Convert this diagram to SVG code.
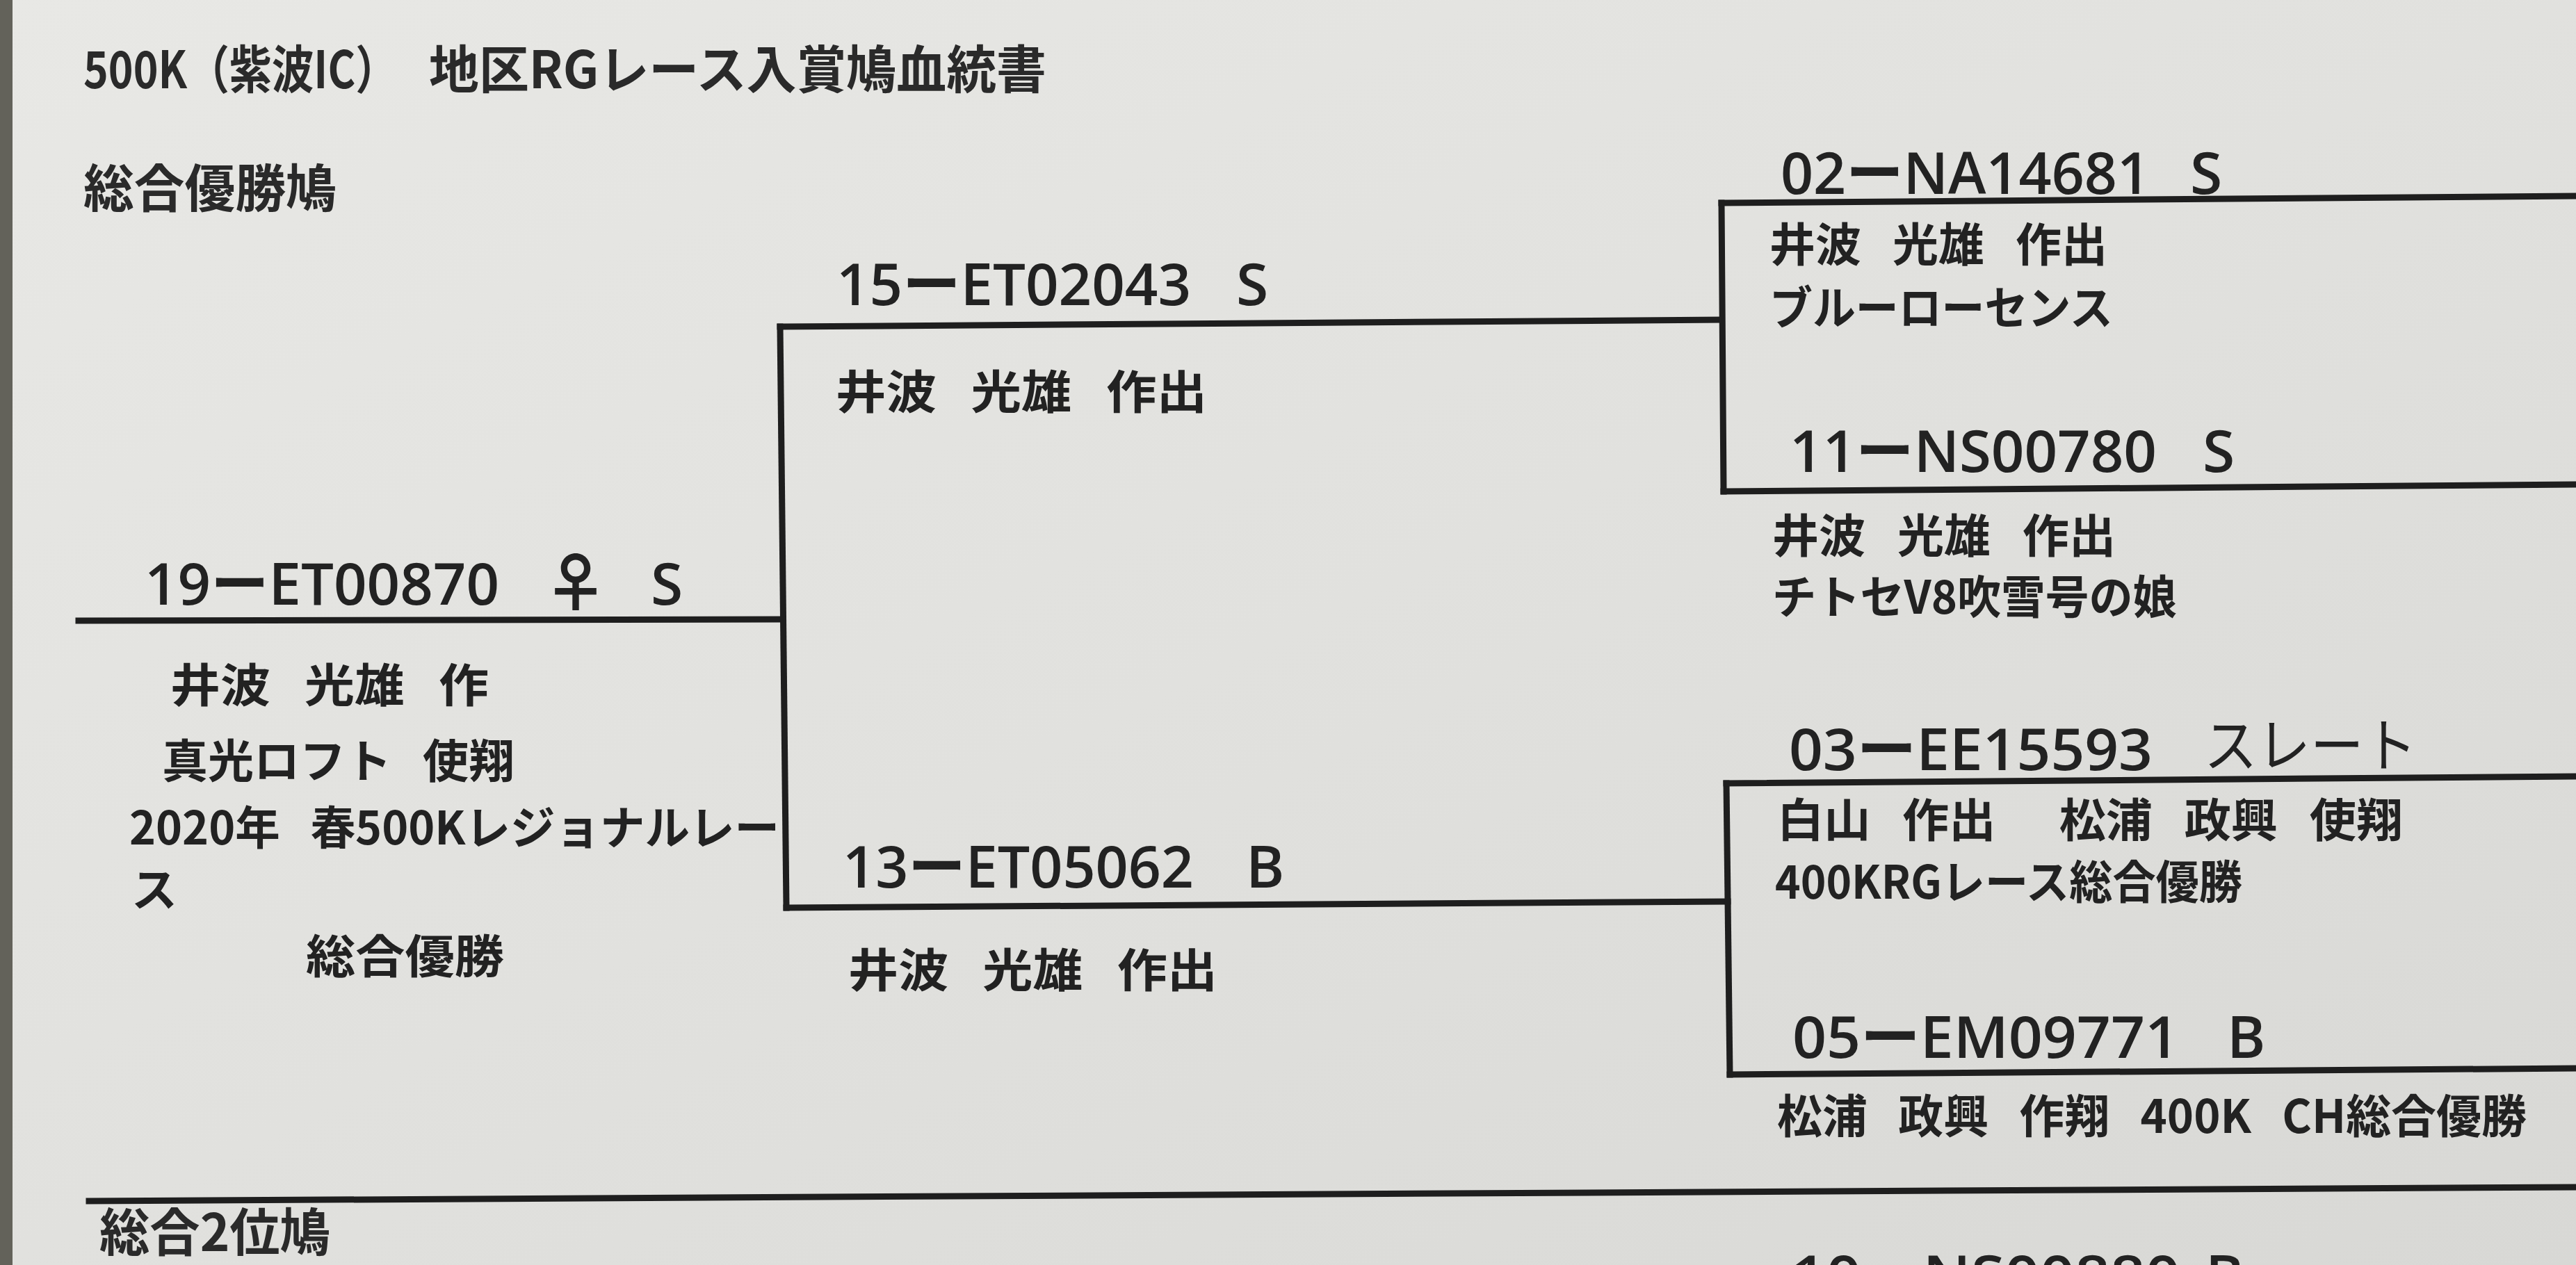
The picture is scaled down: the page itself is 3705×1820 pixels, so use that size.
<svg xmlns="http://www.w3.org/2000/svg" width="3705" height="1820" viewBox="0 0 3705 1820">
  <defs>
    <linearGradient id="paper" x1="0" y1="0" x2="1" y2="1">
      <stop offset="0" stop-color="#e8e8e5"/>
      <stop offset="0.5" stop-color="#e1e1de"/>
      <stop offset="1" stop-color="#d8d8d5"/>
    </linearGradient>
    <style>
      .jp { font-family: "Noto Sans CJK JP", sans-serif; font-weight: 700; font-size: 66px; fill: #222; white-space: pre; }
      .hd { font-family: "Noto Sans CJK JP", sans-serif; font-weight: 700; font-size: 74px; fill: #2a2a2a; }
      .id { font-family: "Open Sans", "Noto Sans CJK JP", sans-serif; font-weight: 600; font-size: 84px; fill: #222; }
      .hand { font-family: "Noto Sans CJK JP", sans-serif; font-weight: 400; font-size: 84px; fill: #222; }
      .ln { stroke: #1e1e1e; stroke-width: 9; fill: none; stroke-linecap: square; }
    </style>
  </defs>

  <rect x="0" y="0" width="3705" height="1820" fill="url(#paper)"/>
  <rect x="0" y="0" width="18" height="1820" fill="#63625a"/>

  <g id="title">
    <text class="hd" x="120" y="127" textLength="452" lengthAdjust="spacingAndGlyphs">500K（紫波IC）</text>
    <text class="hd" x="617" y="127" textLength="888" lengthAdjust="spacingAndGlyphs">地区RGレース入賞鳩血統書</text>
  </g>

  <g id="section-1-header">
    <text class="hd" x="120" y="298" textLength="364" lengthAdjust="spacingAndGlyphs">総合優勝鳩</text>
  </g>

  <g id="connectors">
    <line class="ln" x1="113" y1="893" x2="1122" y2="891"/>
    <line class="ln" x1="1122" y1="470" x2="1131" y2="1306"/>
    <line class="ln" x1="1122" y1="470" x2="2476" y2="460"/>
    <line class="ln" x1="1131" y1="1306" x2="2485" y2="1297"/>
    <line class="ln" x1="2476" y1="292" x2="2479" y2="707"/>
    <line class="ln" x1="2476" y1="292" x2="3710" y2="282"/>
    <line class="ln" x1="2479" y1="707" x2="3710" y2="697"/>
    <line class="ln" x1="2483" y1="1127" x2="2488" y2="1546"/>
    <line class="ln" x1="2483" y1="1127" x2="3710" y2="1117"/>
    <line class="ln" x1="2488" y1="1546" x2="3710" y2="1537"/>
    <line class="ln" x1="128" y1="1728" x2="3710" y2="1708"/>
  </g>

  <g id="node-subject">
    <text class="id" x="208" y="870" textLength="510" lengthAdjust="spacingAndGlyphs">19ーET00870</text>
    <text class="id" x="782" y="872" style="font-family:'Noto Sans CJK JP',sans-serif;font-size:92px;font-weight:700">♀</text>
    <text class="id" x="936" y="870">S</text>
    <text class="jp" x="245" y="1010" textLength="458" lengthAdjust="spacingAndGlyphs">井波   光雄   作</text>
    <text class="jp" x="233" y="1119" textLength="507" lengthAdjust="spacingAndGlyphs">真光ロフト   使翔</text>
    <text class="jp" x="186" y="1215" textLength="935" lengthAdjust="spacingAndGlyphs">2020年   春500Kレジョナルレー</text>
    <text class="jp" x="189" y="1304">ス</text>
    <text class="jp" x="440" y="1400" textLength="285" lengthAdjust="spacingAndGlyphs">総合優勝</text>
  </g>

  <g id="node-sire">
    <text class="id" x="1203" y="439" textLength="510" lengthAdjust="spacingAndGlyphs">15ーET02043</text>
    <text class="id" x="1778" y="439">S</text>
    <text class="jp" x="1202" y="588" textLength="534" lengthAdjust="spacingAndGlyphs">井波   光雄   作出</text>
  </g>

  <g id="node-dam">
    <text class="id" x="1212" y="1277" textLength="505" lengthAdjust="spacingAndGlyphs">13ーET05062</text>
    <text class="id" x="1792" y="1277">B</text>
    <text class="jp" x="1220" y="1420" textLength="531" lengthAdjust="spacingAndGlyphs">井波   光雄   作出</text>
  </g>

  <g id="node-sire-sire">
    <text class="id" x="2561" y="279" textLength="531" lengthAdjust="spacingAndGlyphs">02ーNA14681</text>
    <text class="id" x="3150" y="279">S</text>
    <text class="jp" x="2545" y="376" textLength="486" lengthAdjust="spacingAndGlyphs">井波   光雄   作出</text>
    <text class="jp" x="2545" y="467" textLength="494" lengthAdjust="spacingAndGlyphs">ブルーローセンス</text>
  </g>

  <g id="node-sire-dam">
    <text class="id" x="2574" y="679" textLength="528" lengthAdjust="spacingAndGlyphs">11ーNS00780</text>
    <text class="id" x="3168" y="679">S</text>
    <text class="jp" x="2549" y="795" textLength="494" lengthAdjust="spacingAndGlyphs">井波   光雄   作出</text>
    <text class="jp" x="2549" y="883" textLength="582" lengthAdjust="spacingAndGlyphs">チトセV8吹雪号の娘</text>
  </g>

  <g id="node-dam-sire">
    <text class="id" x="2573" y="1108" textLength="523" lengthAdjust="spacingAndGlyphs">03ーEE15593</text>
    <text class="hand" x="3170" y="1103" textLength="306" lengthAdjust="spacingAndGlyphs">スレート</text>
    <text class="jp" x="2556" y="1204" textLength="900" lengthAdjust="spacingAndGlyphs">白山   作出      松浦   政興   使翔</text>
    <text class="jp" x="2553" y="1293" textLength="672" lengthAdjust="spacingAndGlyphs">400KRGレース総合優勝</text>
  </g>

  <g id="node-dam-dam">
    <text class="id" x="2578" y="1522" textLength="556" lengthAdjust="spacingAndGlyphs">05ーEM09771</text>
    <text class="id" x="3203" y="1522">B</text>
    <text class="jp" x="2556" y="1630" textLength="1078" lengthAdjust="spacingAndGlyphs">松浦   政興   作翔   400K   CH総合優勝</text>
  </g>

  <g id="section-2-header">
    <text class="hd" x="143" y="1800" textLength="332" lengthAdjust="spacingAndGlyphs">総合2位鳩</text>
  </g>

  <g id="node-2-sire-sire">
    <text class="id" x="2576" y="1866" textLength="560" lengthAdjust="spacingAndGlyphs">10ーNS00880</text>
    <text class="id" x="3172" y="1866">B</text>
  </g>
</svg>
